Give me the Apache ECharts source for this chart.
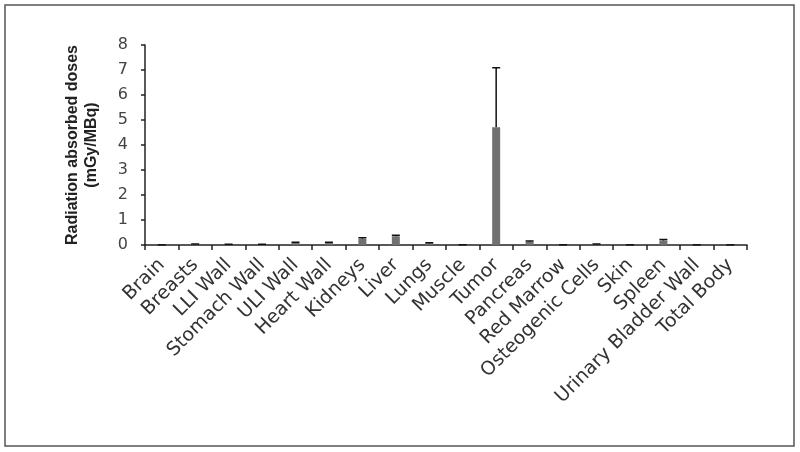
<!DOCTYPE html>
<html lang="en">
<head>
    <meta charset="UTF-8">
    <title>Radiation absorbed doses</title>
    <script src="https://cdn.jsdelivr.net/npm/echarts@6.0.0/dist/echarts.min.js"></script>
    <style>
        html, body { margin: 0; padding: 0; background: #fff; }
        #chart { width: 800px; height: 452px; }
    </style>
</head>
<body>
<div id="chart"></div>
<script>
    // organ list and doses (mGy/MBq)
    var organs = ['Brain', 'Breasts', 'LLI Wall', 'Stomach Wall', 'ULI Wall', 'Heart Wall', 'Kidneys', 'Liver',
        'Lungs', 'Muscle', 'Tumor', 'Pancreas', 'Red Marrow', 'Osteogenic Cells', 'Skin', 'Spleen',
        'Urinary Bladder Wall', 'Total Body'];
    var doses = [0.005, 0.03, 0.02, 0.02, 0.09, 0.09, 0.25, 0.35, 0.07, 0.01, 4.71, 0.13, 0.01, 0.03, 0.005, 0.18, 0.005, 0.005];
    var errors = [0, 0.01, 0.01, 0.01, 0.02, 0.02, 0.04, 0.04, 0.02, 0, 2.38, 0.03, 0, 0.01, 0, 0.04, 0, 0];
    var yTicks = [0, 1, 2, 3, 4, 5, 6, 7, 8];

    var chart = echarts.init(document.getElementById('chart'));

    var errData = doses.map(function (d, i) { return [i, d, d + errors[i]]; });

    chart.setOption({
        animation: false,
        textStyle: {fontFamily: 'DejaVu Sans, sans-serif'},
        graphic: [{
            type: 'rect',
            shape: {x: 5, y: 5, width: 789, height: 441},
            style: {fill: null, stroke: '#555', lineWidth: 1.5}
        }],
        grid: {left: 145, right: 53, top: 45, bottom: 207, containLabel: false},
        xAxis: {
            type: 'category',
            data: organs,
            axisLine: {lineStyle: {color: '#222', width: 1.5}},
            axisTick: {show: true, length: 5, lineStyle: {color: '#222', width: 1.5}},
            axisLabel: {interval: 0, rotate: 45, fontSize: 19, color: '#333', margin: 17}
        },
        yAxis: {
            type: 'value',
            min: yTicks[0],
            max: yTicks[yTicks.length - 1],
            interval: 1,
            splitLine: {show: false},
            axisLine: {show: true, lineStyle: {color: '#222', width: 1.5}},
            axisTick: {show: true, length: 4, lineStyle: {color: '#222', width: 1.5}},
            axisLabel: {fontSize: 16, color: '#444', margin: 17},
            name: 'Radiation absorbed doses\n(mGy/MBq)',
            nameLocation: 'middle',
            nameRotate: 90,
            nameGap: 44,
            nameTextStyle: {fontSize: 16, fontWeight: 'bold', color: '#222', lineHeight: 19,
                fontFamily: 'Liberation Sans, Arial, sans-serif'}
        },
        series: [{
            type: 'bar',
            data: doses,
            barWidth: 8,
            itemStyle: {color: '#717171'}
        }, {
            type: 'custom',
            data: errData,
            z: 5,
            renderItem: function (params, api) {
                var base = api.coord([api.value(0), api.value(1)]);
                var top = api.coord([api.value(0), api.value(2)]);
                var half = 4;
                var st = {stroke: '#111', lineWidth: 1.5};
                return {
                    type: 'group',
                    children: [
                        {type: 'line', shape: {x1: base[0], y1: base[1], x2: top[0], y2: top[1]}, style: st},
                        {type: 'line', shape: {x1: top[0] - half, y1: top[1], x2: top[0] + half, y2: top[1]}, style: st}
                    ]
                };
            }
        }]
    });
</script>
</body>
</html>
